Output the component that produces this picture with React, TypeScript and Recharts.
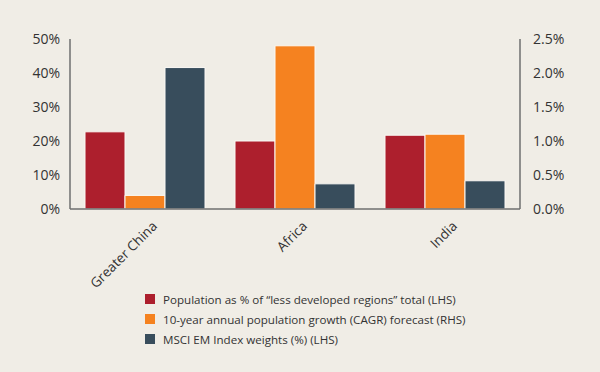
import React from "react"
import { BarChart, Bar, XAxis, YAxis } from "recharts"

const categories = ["Greater China", "Africa", "India"]
const populationShare = [22.7, 20.0, 21.7]
const growthCagr = [0.2, 2.4, 1.1]
const msciWeights = [41.6, 7.4, 8.3]

const leftTicks = [0, 10, 20, 30, 40, 50]
const rightTicks = [0, 0.5, 1.0, 1.5, 2.0, 2.5]

const SERIES = [
  { key: "population", color: "#ad1f2d", label: "Population as % of \u201cless developed regions\u201d total (LHS)" },
  { key: "growth", color: "#f58220", label: "10-year annual population growth (CAGR) forecast (RHS)" },
  { key: "msci", color: "#384d5c", label: "MSCI EM Index weights (%) (LHS)" },
]

const data = categories.map((name, i) => ({
  name,
  population: populationShare[i],
  growth: growthCagr[i],
  msci: msciWeights[i],
}))

const BG = "#f0ede6"
const AXIS = "#6f6f6f"
const FONT = "'Open Sans', sans-serif"

function CategoryTick({ x, y, payload }: any) {
  return (
    <g transform={`translate(${x + 13},${y + 16})`}>
      <text
        x={0}
        y={0}
        textAnchor="end"
        transform="rotate(-45)"
        fill="#333"
        fontSize={13.5}
        fontFamily={FONT}
      >
        {payload.value}
      </text>
    </g>
  )
}

export default function App() {
  return (
    <div
      style={{
        position: "absolute",
        left: 0,
        top: 0,
        width: 600,
        height: 372,
        background: BG,
        fontFamily: FONT,
      }}
    >
      <BarChart
        width={600}
        height={372}
        data={data}
        margin={{ top: 39, right: 20, left: 10, bottom: 88 }}
        barCategoryGap={15}
        barGap={0}
      >
        <XAxis
          dataKey="name"
          height={75}
          interval={0}
          tickLine={false}
          tickSize={0}
          tick={<CategoryTick />}
          axisLine={{ stroke: AXIS, strokeWidth: 1.5 }}
        />
        <YAxis
          yAxisId="left"
          width={60}
          domain={[0, 50]}
          ticks={leftTicks}
          tickFormatter={(v) => `${v}%`}
          tickLine={false}
          tickSize={0}
          tickMargin={10}
          axisLine={{ stroke: AXIS, strokeWidth: 1.5 }}
          tick={{ fill: "#333", fontSize: 14, fontFamily: FONT }}
        />
        <YAxis
          yAxisId="right"
          orientation="right"
          width={60}
          domain={[0, 2.5]}
          ticks={rightTicks}
          tickFormatter={(v) => `${v.toFixed(1)}%`}
          tickLine={false}
          tickSize={0}
          tickMargin={13}
          axisLine={{ stroke: AXIS, strokeWidth: 1.5 }}
          tick={{ fill: "#333", fontSize: 14, fontFamily: FONT }}
        />
        <Bar yAxisId="left" dataKey="population" fill={SERIES[0].color} stroke="#fbf9f5" strokeWidth={1} isAnimationActive={false} />
        <Bar yAxisId="right" dataKey="growth" fill={SERIES[1].color} stroke="#fbf9f5" strokeWidth={1} isAnimationActive={false} />
        <Bar yAxisId="left" dataKey="msci" fill={SERIES[2].color} stroke="#fbf9f5" strokeWidth={1} isAnimationActive={false} />
      </BarChart>
      <div style={{ position: "absolute", left: 145, top: 289 }}>
        {SERIES.map((s) => (
          <div
            key={s.key}
            style={{ display: "flex", alignItems: "center", height: 20, fontSize: 11.6, color: "#333" }}
          >
            <span style={{ width: 10, height: 10, background: s.color, marginRight: 8, display: "inline-block" }} />
            <span>{s.label}</span>
          </div>
        ))}
      </div>
    </div>
  )
}
